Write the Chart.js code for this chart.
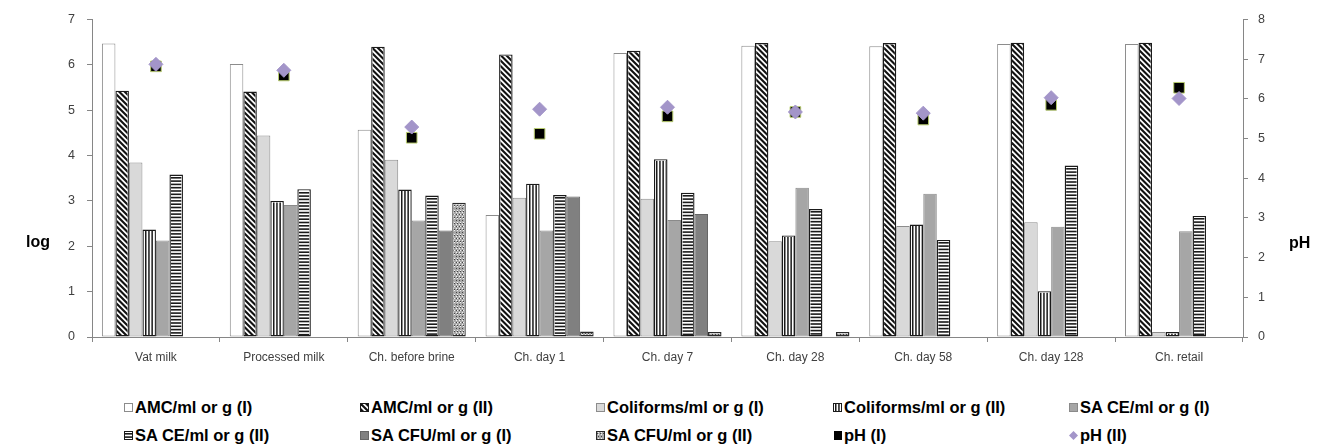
<!DOCTYPE html>
<html>
<head>
<meta charset="utf-8">
<script src="https://cdn.jsdelivr.net/npm/chart.js@4.4.1/dist/chart.umd.min.js"></script>
<style>
  body { margin: 0; background: #fff; font-family: "Liberation Sans", Arial, sans-serif; }
  #wrap { position: relative; width: 1326px; height: 447px; overflow: hidden; }
  #box { position: absolute; left: 0; top: 0; width: 1326px; height: 375px; }
  .axis-title { position: absolute; font-weight: bold; font-size: 16px; color: #000; }
  .item { position: absolute; font-weight: bold; font-size: 16.5px; line-height: 19px; color: #000; white-space: nowrap; display: flex; align-items: center; }
  .item canvas { margin-right: 2px; }
</style>
</head>
<body>
<div id="wrap">
  <div id="box"><canvas id="grafica"></canvas></div>
  <div class="axis-title" style="left:26px; top:233px;">log</div>
  <div class="axis-title" style="left:1289px; top:234px;">pH</div>
  <div id="legend"></div>
</div>
<script>
// categorias y valores
const categories = ['Vat milk', 'Processed milk', 'Ch. before brine', 'Ch. day 1', 'Ch. day 7',
                    'Ch. day 28', 'Ch. day 58', 'Ch. day 128', 'Ch. retail'];
const amcI    = [6.47, 6.02, 4.57, 2.69, 6.26, 6.42, 6.41, 6.46, 6.46];
const amcII   = [5.43, 5.41, 6.40, 6.23, 6.31, 6.48, 6.48, 6.49, 6.49];
const coliI   = [3.85, 4.44, 3.91, 3.07, 3.05, 2.11, 2.45, 2.53, 0.11];
const coliII  = [2.37, 3.00, 3.25, 3.38, 3.92, 2.24, 2.48, 1.01, 0.11];
const saceI   = [2.13, 2.91, 2.57, 2.35, 2.58, 3.29, 3.16, 2.43, 2.33];
const saceII  = [3.58, 3.26, 3.12, 3.13, 3.18, 2.82, 2.14, 3.78, 2.67];
const sacfuI  = [null, null, 2.35, 3.10, 2.71, null, null, null, null];
const sacfuII = [null, null, 2.96, 0.12, 0.11, 0.11, null, null, null];
const phI     = [6.82, 6.59, 5.02, 5.12, 5.56, 5.67, 5.48, 5.85, 6.28];
const phII    = [6.87, 6.72, 5.29, 5.74, 5.79, 5.67, 5.64, 6.03, 6.01];
const logTicks = [0, 1, 2, 3, 4, 5, 6, 7];
const phTicks  = [0, 1, 2, 3, 4, 5, 6, 7, 8];

// dibuja la trama dentro de un rectangulo (recortado)
function drawHatch(g, kind, x0, y0, x1, y1) {
    g.save();
    g.beginPath();
    g.rect(x0, y0, x1 - x0, y1 - y0);
    g.clip();
    g.fillStyle = '#fff';
    g.fillRect(x0, y0, x1 - x0, y1 - y0);
    if (kind === 'diag') {
        g.strokeStyle = '#111';
        g.lineWidth = 2.1;
        const start = Math.floor((y0 - x1) / 5.5) * 5.5;
        for (let k = start; k < y1 - x0 + 6; k += 5.5) {
            g.beginPath();
            g.moveTo(x0 - 2, x0 - 2 + k);
            g.lineTo(x1 + 2, x1 + 2 + k);
            g.stroke();
        }
    } else if (kind === 'vert') {
        g.fillStyle = '#1a1a1a';
        for (let x = Math.round(x0) + 1; x < x1; x += 3.2) g.fillRect(x, y0, 1.5, y1 - y0);
    } else if (kind === 'horiz') {
        g.fillStyle = '#1a1a1a';
        for (let y = Math.round(y0) + 1; y < y1; y += 3.3) g.fillRect(x0, y, x1 - x0, 1.6);
    } else if (kind === 'dots') {
        g.fillStyle = '#a9a9a9';
        g.fillRect(x0, y0, x1 - x0, y1 - y0);
        g.fillStyle = '#f2f2f2';
        for (let y = Math.floor(y0); y < y1; y += 2) {
            for (let x = Math.floor(x0) + ((y / 2) % 2 ? 1 : 0); x < x1; x += 3) g.fillRect(x, y, 1, 1);
        }
        g.fillStyle = '#444';
        for (let y = Math.floor(y0) + 1; y < y1; y += 3) {
            for (let x = Math.floor(x0) + (y % 2); x < x1; x += 3) g.fillRect(x, y, 1, 1);
        }
    }
    g.restore();
}

const series = [
    { label: 'AMC/ml or g (I)',        data: amcI,    fill: '#ffffff', border: '#8c8c8c' },
    { label: 'AMC/ml or g (II)',       data: amcII,   hatch: 'diag',   border: '#1a1a1a' },
    { label: 'Coliforms/ml or g (I)',  data: coliI,   fill: '#d9d9d9', border: '#8c8c8c' },
    { label: 'Coliforms/ml or g (II)', data: coliII,  hatch: 'vert',   border: '#1a1a1a' },
    { label: 'SA CE/ml or g (I)',      data: saceI,   fill: '#a6a6a6', border: '#8a8a8a' },
    { label: 'SA CE/ml or g (II)',     data: saceII,  hatch: 'horiz',  border: '#1a1a1a' },
    { label: 'SA CFU/ml or g (I)',     data: sacfuI,  fill: '#808080', border: '#666666' },
    { label: 'SA CFU/ml or g (II)',    data: sacfuII, hatch: 'dots',   border: '#2a2a2a' }
];

const datasets = series.map(s => ({
    type: 'bar',
    label: s.label,
    data: s.data,
    hatch: s.hatch,
    backgroundColor: s.fill || '#ffffff',
    borderColor: s.border,
    borderWidth: s.hatch ? 1.4 : 1,
    borderSkipped: false,
    yAxisID: 'y',
    order: 3
}));
datasets.push({
    type: 'line', label: 'pH (I)', data: phI, yAxisID: 'y1', showLine: false,
    pointStyle: 'rect', pointRadius: 7.5, pointBackgroundColor: '#000', pointBorderColor: '#b8cc6e',
    pointBorderWidth: 1, order: 2
});
datasets.push({
    type: 'line', label: 'pH (II)', data: phII, yAxisID: 'y1', showLine: false,
    pointStyle: 'rectRot', pointRadius: 7, pointBackgroundColor: '#a395c9', pointBorderColor: '#a395c9',
    pointBorderWidth: 1, order: 1
});

// las tramas se pintan sobre cada barra con la posicion que da Chart.js
const hatchPlugin = {
    id: 'hatch',
    afterDatasetDraw(chart, args) {
        const ds = chart.data.datasets[args.index];
        if (!ds.hatch) return;
        const g = chart.ctx;
        const bw = ds.borderWidth;
        args.meta.data.forEach((el, i) => {
            if (ds.data[i] == null) return;
            const p = el.getProps(['x', 'y', 'base', 'width'], true);
            const left = p.x - p.width / 2, right = p.x + p.width / 2;
            const top = Math.min(p.y, p.base), bottom = Math.max(p.y, p.base);
            drawHatch(g, ds.hatch, left + bw, top + bw, right - bw, bottom - bw);
        });
    }
};

const axisGrey = '#868686';
const ctx = document.getElementById('grafica').getContext('2d');
new Chart(ctx, {
    data: { labels: categories, datasets: datasets },
    plugins: [hatchPlugin],
    options: {
        responsive: true,
        maintainAspectRatio: false,
        animation: false,
        datasets: { bar: { categoryPercentage: 0.845, barPercentage: 1 } },
        layout: { padding: { top: 15, left: 0, right: 0, bottom: 0 } },
        plugins: { legend: { display: false }, tooltip: { enabled: false } },
        scales: {
            x: {
                offset: true,
                grid: { offset: true, drawOnChartArea: false, tickLength: 5, color: axisGrey },
                border: { color: axisGrey },
                ticks: { color: '#404040', font: { family: 'Liberation Sans', size: 12 }, padding: 8, maxRotation: 0 },
                afterFit: s => { s.height = 38; }
            },
            y: {
                position: 'left', min: 0, max: 7,
                afterBuildTicks: s => { s.ticks = logTicks.map(v => ({ value: v })); },
                grid: { drawOnChartArea: false, tickLength: 5, color: axisGrey },
                border: { color: axisGrey },
                ticks: { color: '#404040', font: { family: 'Liberation Sans', size: 12.5 }, padding: 12 },
                afterFit: s => { s.width = 92; }
            },
            y1: {
                position: 'right', min: 0, max: 8,
                afterBuildTicks: s => { s.ticks = phTicks.map(v => ({ value: v })); },
                grid: { drawOnChartArea: false, tickLength: 5, color: axisGrey },
                border: { color: axisGrey },
                ticks: { color: '#404040', font: { family: 'Liberation Sans', size: 12.5 }, padding: 10 },
                afterFit: s => { s.width = 83; }
            }
        }
    }
});

// leyenda en dos filas, cinco columnas
const colX = [124, 360, 596, 833, 1069];
const rowY = [398, 426];
const legend = document.getElementById('legend');
const legendItems = series.map(s => ({ label: s.label, fill: s.fill, hatch: s.hatch, border: s.border }))
    .concat([{ label: 'pH (I)', mark: 'rect' }, { label: 'pH (II)', mark: 'diamond' }]);
legendItems.forEach((it, i) => {
    const div = document.createElement('div');
    div.className = 'item';
    div.style.left = colX[i % 5] + 'px';
    div.style.top = rowY[Math.floor(i / 5)] + 'px';
    const sw = document.createElement('canvas');
    sw.width = 9; sw.height = 9;
    const g = sw.getContext('2d');
    if (it.mark === 'rect') {
        g.fillStyle = '#000'; g.fillRect(1, 0, 8, 9);
    } else if (it.mark === 'diamond') {
        g.fillStyle = '#a395c9';
        g.beginPath(); g.moveTo(4.5, 0); g.lineTo(9, 4.5); g.lineTo(4.5, 9); g.lineTo(0, 4.5); g.closePath(); g.fill();
    } else {
        g.fillStyle = it.border; g.fillRect(0, 0, 9, 9);
        if (it.hatch) drawHatch(g, it.hatch, 1, 1, 8, 8);
        else { g.fillStyle = it.fill; g.fillRect(1, 1, 7, 7); }
    }
    div.appendChild(sw);
    const t = document.createElement('span');
    t.textContent = it.label;
    div.appendChild(t);
    legend.appendChild(div);
});
</script>
</body>
</html>
